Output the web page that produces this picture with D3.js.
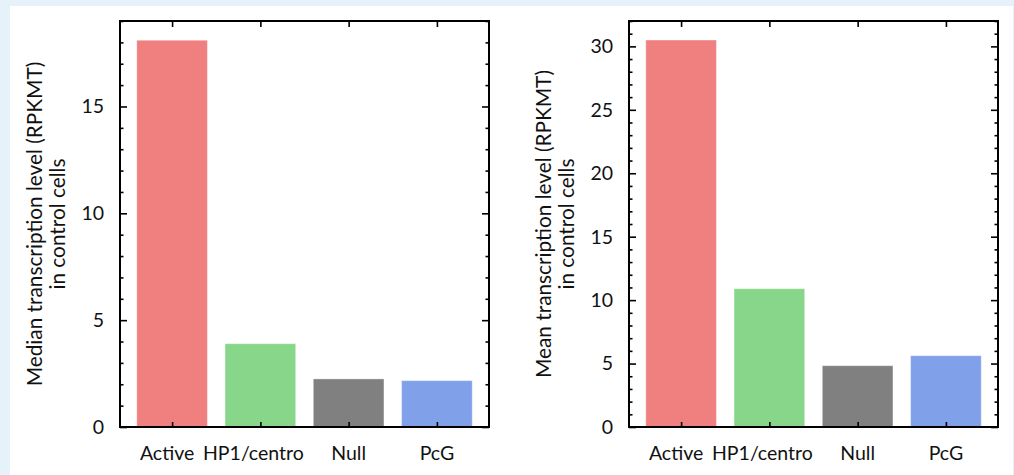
<!DOCTYPE html>
<html lang="en">
<head>
    <meta charset="UTF-8">
    <title>Transcription level</title>
    <script src="https://d3js.org/d3.v7.min.js"></script>
    <style>
        body { margin: 0; }
        text { font-family: Lato, "Open Sans", sans-serif; fill: #111; }
    </style>
</head>
<body>
<svg width="1014" height="475"></svg>
<script>
    var categories = ["Active", "HP1/centro", "Null", "PcG"];
    var medianValues = [18.1, 3.9, 2.25, 2.17];
    var meanValues = [30.5, 10.9, 4.83, 5.62];
    var medianTicks = [0, 5, 10, 15];
    var meanTicks = [0, 5, 10, 15, 20, 25, 30];
    var barColors = ["#f08080", "#88d68a", "#808080", "#80a0ea"];

    var svg = d3.select("svg");
    var width = 1014, height = 475;

    svg.append("rect").attr("width", width).attr("height", height).attr("fill", "#e6f2fa");
    svg.append("rect").attr("x", 10).attr("y", 6).attr("width", 1003).attr("height", 469).attr("fill", "#fff");

    // nudge the two left labels apart so they don't collide
    var labelShift = {"Active": -5, "HP1/centro": -7};

    function drawPanel(left, right, values, yMax, ticks, titleLines) {
        var top = 21, bottom = 427;
        var g = svg.append("g");

        var x = d3.scaleBand()
            .domain(categories)
            .range([left, right])
            .paddingInner(0.2)
            .paddingOuter(0.19);
        var y = d3.scaleLinear()
            .domain([0, yMax])
            .range([bottom, top]);

        // bars
        g.selectAll(".bar")
            .data(values)
            .enter()
            .append("rect")
            .attr("class", "bar")
            .attr("x", function (d, i) { return x(categories[i]); })
            .attr("y", function (d) { return y(d); })
            .attr("width", x.bandwidth())
            .attr("height", function (d) { return y(0) - y(d); })
            .attr("fill", function (d, i) { return barColors[i]; })
            .attr("stroke", "#fff")
            .attr("stroke-opacity", 0.35)
            .attr("stroke-width", 1);

        var minor = d3.range(0, yMax + 0.001, 1).filter(function (v) {
            return ticks.indexOf(v) < 0;
        });

        // left axis: inward ticks
        var yl = g.append("g").attr("transform", "translate(" + left + ",0)");
        yl.call(d3.axisRight(y).tickValues(ticks).tickSize(7).tickFormat(""));
        yl.append("g").call(d3.axisRight(y).tickValues(minor).tickSize(3.5).tickFormat(""));
        // right axis mirror
        var yr = g.append("g").attr("transform", "translate(" + right + ",0)");
        yr.call(d3.axisLeft(y).tickValues(ticks).tickSize(7).tickFormat(""));
        yr.append("g").call(d3.axisLeft(y).tickValues(minor).tickSize(3.5).tickFormat(""));

        var centre = function (c) { return x(c) + x.bandwidth() / 2; };
        var xc = d3.scalePoint().domain(categories).range([centre(categories[0]), centre(categories[3])]);
        g.append("g").attr("transform", "translate(0," + bottom + ")")
            .call(d3.axisTop(xc).tickSize(5).tickFormat(""));
        g.append("g").attr("transform", "translate(0," + top + ")")
            .call(d3.axisBottom(xc).tickSize(6).tickFormat(""));

        g.selectAll(".domain").remove();
        g.selectAll(".tick line").attr("stroke", "#000").attr("stroke-width", 1.6);

        // frame
        g.append("rect")
            .attr("x", left).attr("y", top)
            .attr("width", right - left).attr("height", bottom - top)
            .attr("fill", "none").attr("stroke", "#000").attr("stroke-width", 2);

        // tick labels
        g.selectAll(".ylab")
            .data(ticks)
            .enter()
            .append("text")
            .attr("class", "ylab")
            .attr("x", left - 16)
            .attr("y", function (d) { return y(d); })
            .attr("dy", "0.35em")
            .attr("text-anchor", "end")
            .attr("font-size", 19.5)
            .text(function (d) { return d; });

        g.selectAll(".xlab")
            .data(categories)
            .enter()
            .append("text")
            .attr("class", "xlab")
            .attr("x", function (d) { return xc(d) + (labelShift[d] || 0); })
            .attr("y", 460)
            .attr("text-anchor", "middle")
            .attr("font-size", 19.5)
            .text(function (d) { return d; });

        // axis title, two lines
        var cy = (top + bottom) / 2;
        g.selectAll(".ytitle")
            .data(titleLines)
            .enter()
            .append("text")
            .attr("class", "ytitle")
            .attr("transform", function (d, i) {
                return "translate(" + (left - 78 + i * 23) + "," + cy + ") rotate(-90)";
            })
            .attr("text-anchor", "middle")
            .attr("font-size", 20.8)
            .text(function (d) { return d; });
    }

    drawPanel(120, 489, medianValues, 19, medianTicks,
        ["Median transcription level (RPKMT)", "in control cells"]);
    drawPanel(629, 998, meanValues, 32, meanTicks,
        ["Mean transcription level (RPKMT)", "in control cells"]);
</script>
</body>
</html>
